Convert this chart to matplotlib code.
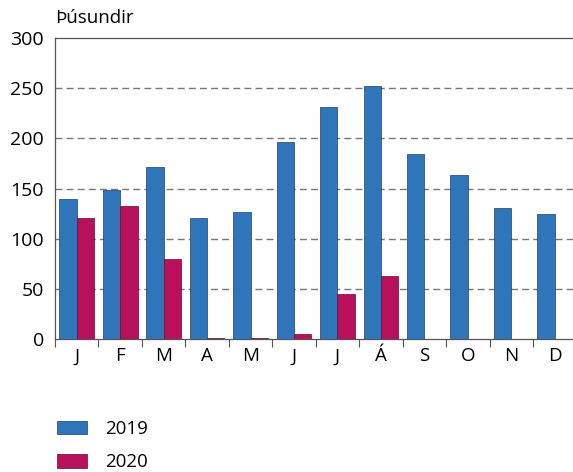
import matplotlib
matplotlib.use('Agg')
import matplotlib.pyplot as plt
import numpy as np
from matplotlib.patches import Patch

months = ['J', 'F', 'M', 'A', 'M', 'J', 'J', 'Á', 'S', 'O', 'N', 'D']
v2019 = [140, 149, 171, 121, 127, 196, 231, 252, 184, 163, 131, 125]
v2020 = [121, 133, 80, 1, 1, 5, 45, 63, 0, 0, 0, 0]
yticks = [0, 50, 100, 150, 200, 250, 300]

blue = '#2e75b9'
pink = '#b8105a'

plt.rcParams['font.family'] = ['Open Sans', 'DejaVu Sans']

fig = plt.figure(figsize=(5.73, 4.72), dpi=100)
ax = fig.add_axes([55 / 573, 133 / 472, 1 - 55 / 573 + 0.006, 301 / 472])

x = np.arange(len(months))
w = 0.4
ax.bar(x - w / 2, v2019, w, color=blue, edgecolor='#1f3f66', linewidth=0.5, label='2019', zorder=3)
ax.bar(x + w / 2, v2020, w, color=pink, edgecolor='#6b0a35', linewidth=0.5, label='2020', zorder=3)

ax.set_xlim(-0.5, len(months) - 0.5)
ax.set_ylim(0, 300)
ax.set_yticks(yticks)
ax.tick_params(axis='y', length=0, labelsize=14, pad=8)
ax.set_xticks(x)
ax.set_xticklabels(months)
ax.tick_params(axis='x', which='major', length=0, labelsize=13.5, pad=6)
ax.set_xticks(np.arange(-0.5, len(months), 1.0), minor=True)
ax.tick_params(axis='x', which='minor', length=6, width=0.8, color='#555555')

for yv in yticks[1:-1]:
    ax.axhline(yv, color='#777777', linestyle=(0, (5, 3)), linewidth=1.0, zorder=1)

ax.spines['right'].set_visible(False)
for s in ['left', 'top', 'bottom']:
    ax.spines[s].set_color('#555555')
    ax.spines[s].set_linewidth(0.9)

fig.text(55 / 573, 1 - 18 / 472, 'Þúsundir', fontsize=13.5, va='center', ha='left')

handles = [Patch(facecolor=blue, edgecolor='#1f3f66', linewidth=0.5, label='2019'),
           Patch(facecolor=pink, edgecolor='#6b0a35', linewidth=0.5, label='2020')]
fig.legend(handles=handles, loc='upper left', bbox_to_anchor=(57 / 573, 1 - 420 / 472),
           frameon=False, fontsize=13.5, handlelength=1.6, handleheight=0.75,
           handletextpad=0.95, labelspacing=0.82, borderpad=0, borderaxespad=0)

fig.savefig('out.png', dpi=100)
